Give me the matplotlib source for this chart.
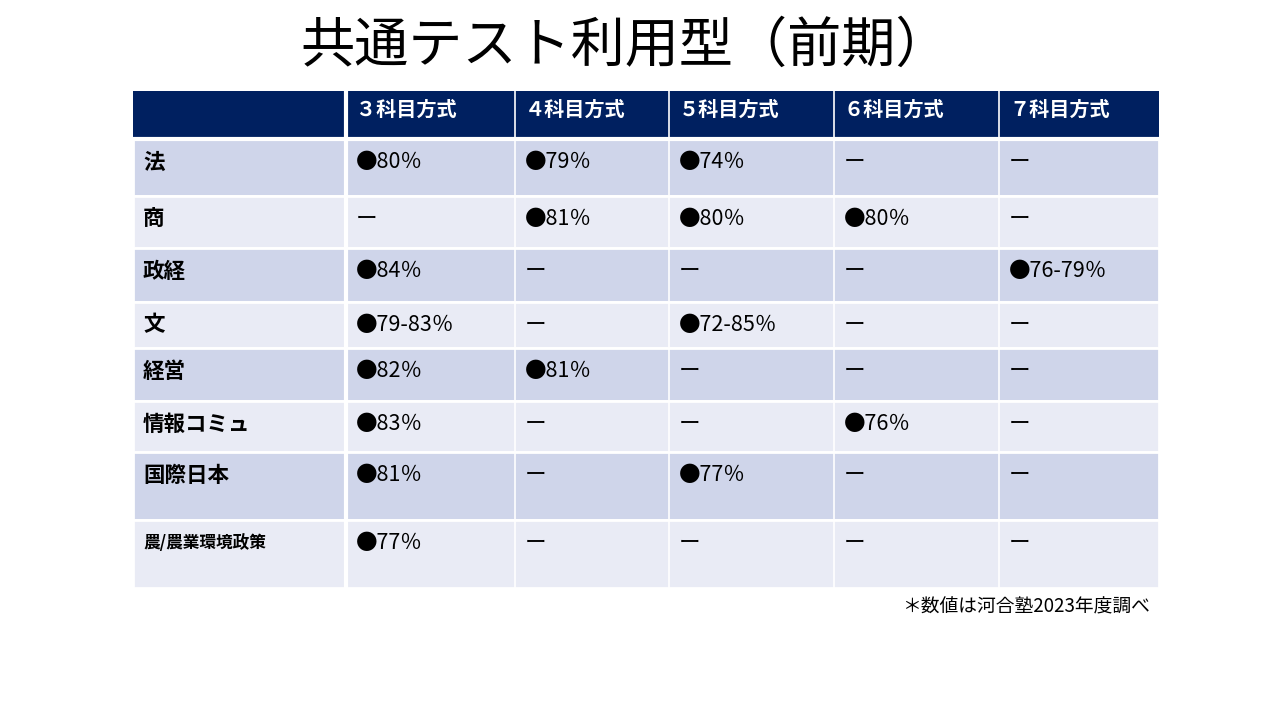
import matplotlib
matplotlib.use("Agg")
import matplotlib.pyplot as plt
from matplotlib.patches import Rectangle

plt.rcParams["font.family"] = ["Noto Sans CJK JP", "DejaVu Sans"]

title = "共通テスト利用型（前期）"
columns = ["３科目方式", "４科目方式", "５科目方式", "６科目方式", "７科目方式"]
faculties = ["法", "商", "政経", "文", "経営", "情報コミュ", "国際日本", "農/農業環境政策"]
values = [
    ["●80％", "●79％", "●74％", "ー", "ー"],
    ["ー", "●81％", "●80％", "●80％", "ー"],
    ["●84％", "ー", "ー", "ー", "●76-79％"],
    ["●79-83％", "ー", "●72-85％", "ー", "ー"],
    ["●82％", "●81％", "ー", "ー", "ー"],
    ["●83％", "ー", "ー", "●76％", "ー"],
    ["●81％", "ー", "●77％", "ー", "ー"],
    ["●77％", "ー", "ー", "ー", "ー"],
]
note = "＊数値は河合塾2023年度調べ"

# layout in pixels
col_edges = [133, 346, 515, 669, 834, 999, 1159]
header = (91, 139)
row_edges = [139, 196, 248, 302, 348, 401, 452, 520, 588]
HEADER_C = "#002060"
DARK = "#CFD5EA"
LIGHT = "#E9EBF5"

fig = plt.figure(figsize=(12.8, 7.2), dpi=100)
ax = fig.add_axes([0, 0, 1, 1])
ax.set_xlim(0, 1280)
ax.set_ylim(720, 0)
ax.axis("off")

ax.text(625, 46, title, fontsize=39, ha="center", va="center")

ax.add_patch(Rectangle((col_edges[0], header[0]), col_edges[-1] - col_edges[0],
                       header[1] - header[0], color=HEADER_C, lw=0))
for j, name in enumerate(columns):
    x0 = col_edges[j + 1]
    ax.text(x0 + 10, 109, name, fontsize=14.5, color="white", weight="bold", va="center")
    if j > 0:
        ax.plot([x0, x0], header, color="white", lw=1.2)

for i, fac in enumerate(faculties):
    top, bot = row_edges[i], row_edges[i + 1]
    fill = DARK if i % 2 == 0 else LIGHT
    ax.add_patch(Rectangle((col_edges[0], top), col_edges[-1] - col_edges[0], bot - top,
                           facecolor=fill, edgecolor="white", lw=2))
    fs = 12 if len(fac) > 6 else 15.5
    ax.text(col_edges[0] + 10, top + 23, fac, fontsize=fs, weight="bold", va="center")
    for j, v in enumerate(values[i]):
        ax.text(col_edges[j + 1] + 10, top + 23, v, fontsize=15.5, va="center")

for x in col_edges[1:-1]:
    ax.plot([x, x], [row_edges[0], row_edges[-1]], color="white", lw=1.2)
ax.plot([col_edges[1], col_edges[1]], [header[0], row_edges[-1]], color="white", lw=3)
ax.plot([col_edges[0], col_edges[-1]], [header[1], header[1]], color="white", lw=3)

ax.text(1150, 607, note, fontsize=13.5, ha="right", va="center")

fig.savefig("out.png", dpi=100)
